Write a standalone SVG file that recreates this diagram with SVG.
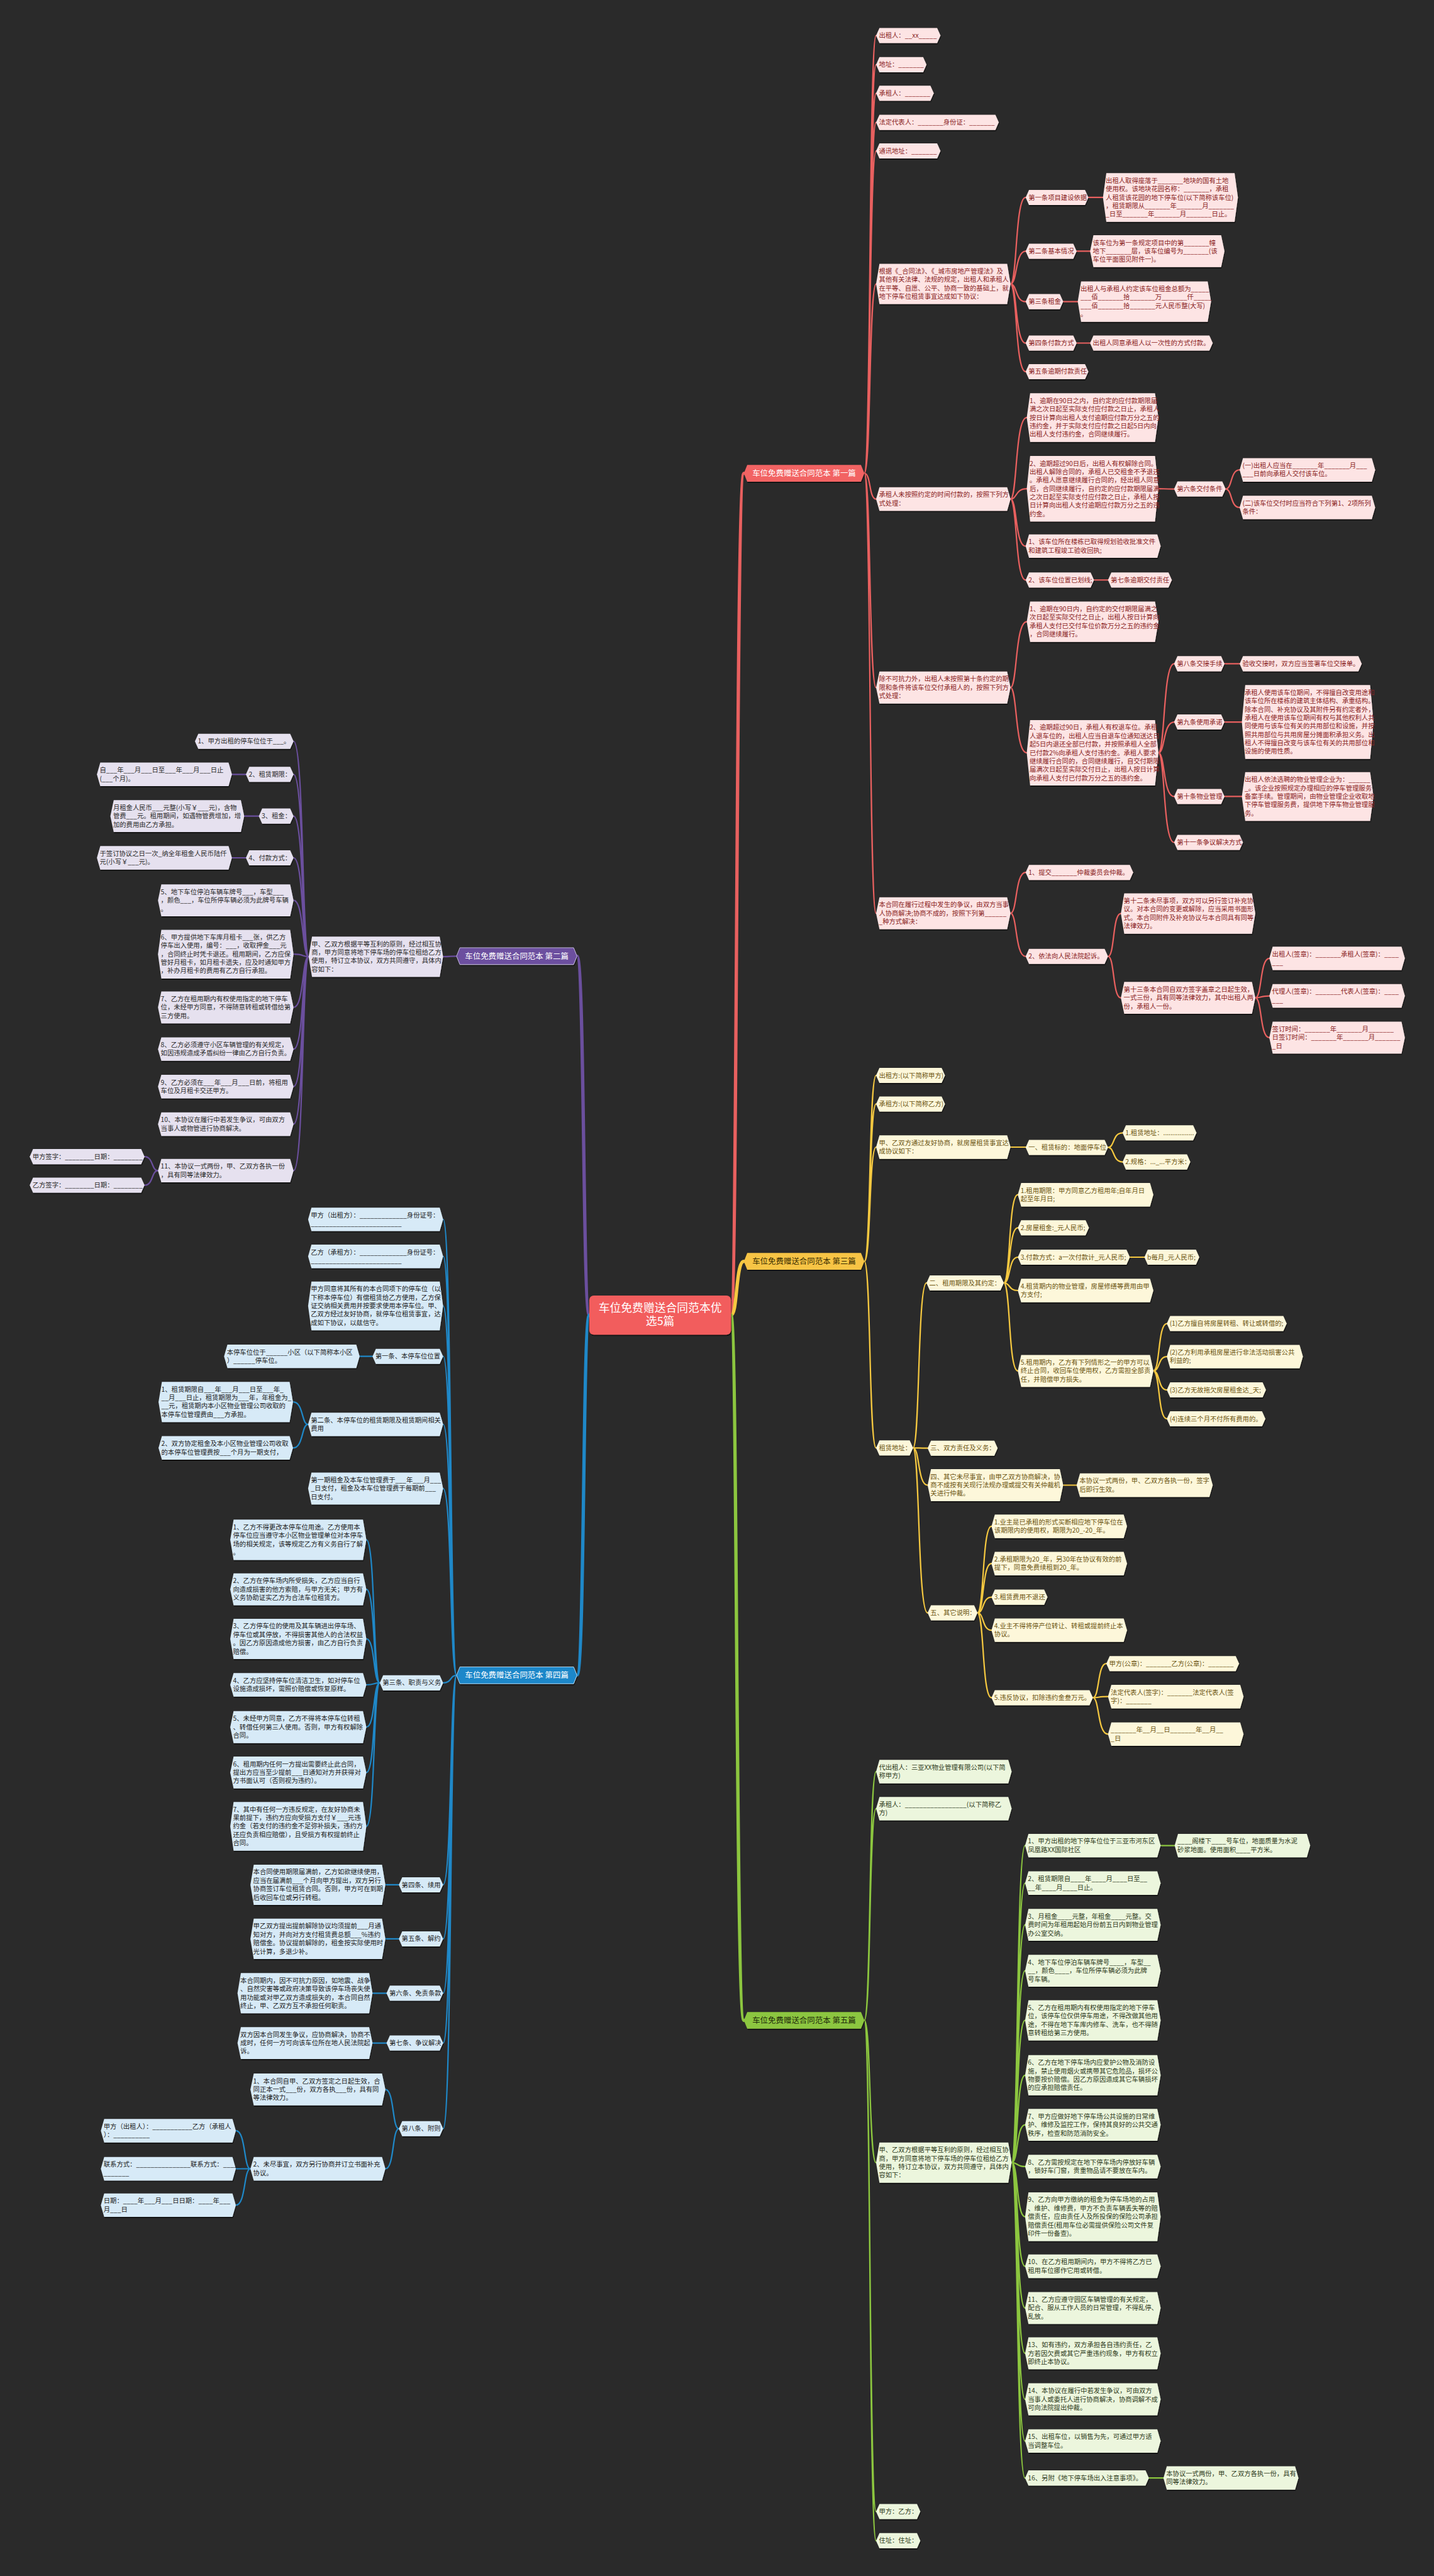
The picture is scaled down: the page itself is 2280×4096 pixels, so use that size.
<svg xmlns="http://www.w3.org/2000/svg" width="2280" height="4096" viewBox="0 0 2280 4096">
<style>
text{font-family:"Noto Sans CJK SC","Noto Sans",sans-serif;font-size:11.6px}
.nd path{filter:url(#sh)}
.k1 path{fill:#fde4e4}.k1 text{fill:#8a2323}
.k3 path{fill:#fdf7da}.k3 text{fill:#6b5410}
.k5 path{fill:#ecf6dd}.k5 text{fill:#2e3a1a}
.k2 path{fill:#e6e1ef}.k2 text{fill:#2a2a2a}
.k4 path{fill:#d7eaf7}.k4 text{fill:#1b1b1b}
.tt text{font-size:14px;text-anchor:middle}
.c{fill:none;stroke-width:2.5;stroke-linecap:round}
.c1{stroke:#e8605f}.c3{stroke:#f5c840}.c5{stroke:#8cc63f}.c2{stroke:#6b4f9e}.c4{stroke:#1f88c8}
.m{stroke-width:6}
</style>
<defs>
<filter id="sh" x="-5%" y="-20%" width="110%" height="150%"><feDropShadow dx="1" dy="2" stdDeviation="0.8" flood-color="#000" flood-opacity="0.6"/></filter>
</defs>
<rect width="2280" height="4096" fill="#2a2a2a"/>
<g transform="scale(0.890625)">
<g id="connectors">
<path class="c c1 m" d="M1305,2348 C1317,2348 1313,845 1328,845"/>
<path class="c c3 m" d="M1305,2348 C1317,2348 1313,2252 1328,2252"/>
<path class="c c5 m" d="M1305,2348 C1317,2348 1313,3607 1328,3607"/>
<path class="c c2 m" d="M1052,2348 C1040,2348 1044,1707 1030,1707"/>
<path class="c c4 m" d="M1052,2348 C1040,2348 1044,2991 1030,2991"/>
<path class="c c1" d="M1543,845 C1555,845 1551,63.5 1564,63.5 M1543,845 C1555,845 1551,115.5 1564,115.5 M1543,845 C1555,845 1551,166.5 1564,166.5 M1543,845 C1555,845 1551,218.5 1564,218.5 M1543,845 C1555,845 1551,269.5 1564,269.5 M1543,845 C1555,845 1551,507 1564,507 M1543,845 C1555,845 1551,891 1564,891 M1543,845 C1555,845 1551,1227.5 1564,1227.5 M1543,845 C1555,845 1551,1630.5 1564,1630.5"/>
<path class="c c1" d="M1804,507 C1816,507 1812,352.5 1831,352.5 M1804,507 C1816,507 1812,448.5 1831,448.5 M1804,507 C1816,507 1812,538.5 1831,538.5 M1804,507 C1816,507 1812,612.5 1831,612.5 M1804,507 C1816,507 1812,663.5 1831,663.5"/>
<path class="c c1" d="M1943,352.5 H1969 M1922,448.5 H1946 M1898,538.5 H1924 M1922,612.5 H1946"/>
<path class="c c1" d="M1804,891 C1816,891 1812,745.5 1833,745.5 M1804,891 C1816,891 1812,872.5 1833,872.5 M1804,891 C1816,891 1812,975 1831,975 M1804,891 C1816,891 1812,1035.5 1831,1035.5"/>
<path class="c c1" d="M2068,872.5 C2080,872.5 2076,873 2096,873 M2188,873 C2200,873 2196,839 2213,839 M2188,873 C2200,873 2196,906 2213,906 M1953,1035.5 H1978"/>
<path class="c c1" d="M1804,1227.5 C1816,1227.5 1812,1110 1833,1110 M1804,1227.5 C1816,1227.5 1812,1344 1833,1344"/>
<path class="c c1" d="M2068,1344 C2080,1344 2076,1185 2096,1185 M2068,1344 C2080,1344 2076,1289 2096,1289 M2068,1344 C2080,1344 2076,1422 2096,1422 M2068,1344 C2080,1344 2076,1504 2096,1504 M2186,1185 H2213 M2186,1289 H2217 M2186,1422 H2217"/>
<path class="c c1" d="M1804,1630.5 C1816,1630.5 1812,1557.5 1831,1557.5 M1804,1630.5 C1816,1630.5 1812,1707.5 1831,1707.5 M1978,1707.5 C1990,1707.5 1986,1631 2001,1631 M1978,1707.5 C1990,1707.5 1986,1781.5 2001,1781.5"/>
<path class="c c1" d="M2241,1781.5 C2253,1781.5 2249,1711 2266,1711 M2241,1781.5 C2253,1781.5 2249,1778 2266,1778 M2241,1781.5 C2253,1781.5 2249,1852.5 2266,1852.5"/>
<path class="c c3" d="M1543,2252 C1555,2252 1551,1920 1564,1920 M1543,2252 C1555,2252 1551,1971 1564,1971 M1543,2252 C1555,2252 1551,2048 1564,2048 M1543,2252 C1555,2252 1551,2585 1564,2585"/>
<path class="c c3" d="M1804,2048 H1831 M1978,2048.5 C1990,2048.5 1986,2022.5 2004,2022.5 M1978,2048.5 C1990,2048.5 1986,2074.5 2004,2074.5"/>
<path class="c c3" d="M1630,2585 C1642,2585 1638,2290.5 1654,2290.5 M1630,2585 C1642,2585 1638,2585.5 1656,2585.5 M1630,2585 C1642,2585 1638,2651.5 1656,2651.5 M1630,2585 C1642,2585 1638,2879.5 1656,2879.5"/>
<path class="c c3" d="M1792,2290.5 C1804,2290.5 1800,2133 1817,2133 M1792,2290.5 C1804,2290.5 1800,2192 1817,2192 M1792,2290.5 C1804,2290.5 1800,2244.5 1817,2244.5 M1792,2290.5 C1804,2290.5 1800,2304 1817,2304 M1792,2290.5 C1804,2290.5 1800,2447.5 1817,2447.5 M2017,2244.5 H2043"/>
<path class="c c3" d="M2059,2447.5 C2071,2447.5 2067,2363 2083,2363 M2059,2447.5 C2071,2447.5 2067,2422 2083,2422 M2059,2447.5 C2071,2447.5 2067,2481.5 2083,2481.5 M2059,2447.5 C2071,2447.5 2067,2533 2083,2533 M1898,2651.5 H1922"/>
<path class="c c3" d="M1745,2879.5 C1757,2879.5 1753,2725 1770,2725 M1745,2879.5 C1757,2879.5 1753,2791.5 1770,2791.5 M1745,2879.5 C1757,2879.5 1753,2851.5 1770,2851.5 M1745,2879.5 C1757,2879.5 1753,2910.5 1770,2910.5 M1745,2879.5 C1757,2879.5 1753,3031 1770,3031"/>
<path class="c c3" d="M1951,3031 C1963,3031 1959,2970 1975,2970 M1951,3031 C1963,3031 1959,3029 1978,3029 M1951,3031 C1963,3031 1959,3096 1978,3096"/>
<path class="c c5" d="M1543,3607 C1555,3607 1551,3163 1564,3163 M1543,3607 C1555,3607 1551,3229 1564,3229 M1543,3607 C1555,3607 1551,3861 1564,3861 M1543,3607 C1555,3607 1551,4484 1564,4484 M1543,3607 C1555,3607 1551,4536 1564,4536"/>
<path class="c c5" d="M1806,3861 C1818,3861 1814,3295 1830,3295 M1806,3861 C1818,3861 1814,3362 1830,3362 M1806,3861 C1818,3861 1814,3436.5 1830,3436.5 M1806,3861 C1818,3861 1814,3518.5 1830,3518.5 M1806,3861 C1818,3861 1814,3607 1830,3607 M1806,3861 C1818,3861 1814,3705 1830,3705 M1806,3861 C1818,3861 1814,3793.5 1830,3793.5 M1806,3861 C1818,3861 1814,3868 1830,3868 M1806,3861 C1818,3861 1814,3957.5 1830,3957.5 M1806,3861 C1818,3861 1814,4046 1830,4046 M1806,3861 C1818,3861 1814,4120.5 1830,4120.5 M1806,3861 C1818,3861 1814,4201.5 1830,4201.5 M1806,3861 C1818,3861 1814,4283.5 1830,4283.5 M1806,3861 C1818,3861 1814,4358 1830,4358 M1806,3861 C1818,3861 1814,4424 1830,4424"/>
<path class="c c5" d="M2072,3295 H2097 M2051,4424 H2077"/>
<path class="c c2" d="M815,1707 C803,1707 807,1708 791,1708"/>
<path class="c c2" d="M551,1708 C539,1708 543,1323.5 524,1323.5 M551,1708 C539,1708 543,1382.5 524,1382.5 M551,1708 C539,1708 543,1457 524,1457 M551,1708 C539,1708 543,1531.5 524,1531.5 M551,1708 C539,1708 543,1607.5 524,1607.5 M551,1708 C539,1708 543,1703.5 524,1703.5 M551,1708 C539,1708 543,1798.5 524,1798.5 M551,1708 C539,1708 543,1873 524,1873 M551,1708 C539,1708 543,1940 524,1940 M551,1708 C539,1708 543,2007 524,2007 M551,1708 C539,1708 543,2090 524,2090"/>
<path class="c c2" d="M439,1382.5 H414 M462,1457 H436 M439,1531.5 H414 M282,2090 C270,2090 274,2065 258,2065 M282,2090 C270,2090 274,2116 258,2116"/>
<path class="c c4" d="M815,2991 C803,2991 807,2177 791,2177 M815,2991 C803,2991 807,2243 791,2243 M815,2991 C803,2991 807,2331.5 791,2331.5 M815,2991 C803,2991 807,2421.5 791,2421.5 M815,2991 C803,2991 807,2543 791,2543 M815,2991 C803,2991 807,2657.5 791,2657.5 M815,2991 C803,2991 807,3004.5 791,3004.5 M815,2991 C803,2991 807,3365 791,3365 M815,2991 C803,2991 807,3461.5 791,3461.5 M815,2991 C803,2991 807,3558.5 791,3558.5 M815,2991 C803,2991 807,3647.5 791,3647.5 M815,2991 C803,2991 807,3800.5 791,3800.5"/>
<path class="c c4" d="M665,2421.5 H642 M550,2543 C538,2543 542,2503 523,2503 M550,2543 C538,2543 542,2585 523,2585"/>
<path class="c c4" d="M678,3004.5 C666,3004.5 670,2749 654,2749 M678,3004.5 C666,3004.5 670,2837.5 654,2837.5 M678,3004.5 C666,3004.5 670,2926 654,2926 M678,3004.5 C666,3004.5 670,3008 654,3008 M678,3004.5 C666,3004.5 670,3083.5 654,3083.5 M678,3004.5 C666,3004.5 670,3164.5 654,3164.5 M678,3004.5 C666,3004.5 670,3260.5 654,3260.5"/>
<path class="c c4" d="M712,3365 H688 M712,3461.5 H688 M690,3558.5 H665 M690,3647.5 H665 M712,3800.5 C700,3800.5 704,3730.5 688,3730.5 M712,3800.5 C700,3800.5 704,3872 688,3872"/>
<path class="c c4" d="M447,3872 C435,3872 439,3804 421,3804 M447,3872 C435,3872 439,3872 421,3872 M447,3872 C435,3872 439,3937 421,3937"/>
</g>

<g id="center"><rect x="1052" y="2313" width="253" height="70" rx="8" fill="#f25d5d" filter="url(#sh)"/><text x="1178.5" y="2342" fill="#ffffff" style="font-size:20px" text-anchor="middle">车位免费赠送合同范本优<tspan x="1178.5" dy="24">选5篇</tspan></text></g>

<g id="t1" class="tt"><path d="M1328,845 l6,-15 h203 l6,15 l-6,15 h-203 z" fill="#f26464" filter="url(#sh)"/><text x="1435.5" y="850" fill="#ffffff">车位免费赠送合同范本 第一篇</text></g>
<g id="t3" class="tt"><path d="M1328,2252 l6,-15 h203 l6,15 l-6,15 h-203 z" fill="#f7c444" filter="url(#sh)"/><text x="1435.5" y="2257" fill="#3a2e00">车位免费赠送合同范本 第三篇</text></g>
<g id="t5" class="tt"><path d="M1328,3607 l6,-15 h203 l6,15 l-6,15 h-203 z" fill="#8cc63f" filter="url(#sh)"/><text x="1435.5" y="3612" fill="#1f2d0a">车位免费赠送合同范本 第五篇</text></g>
<g id="t2" class="tt"><path d="M815,1707 l6,-15 h203 l6,15 l-6,15 h-203 z" fill="#6c4f9f" stroke="#cfc6e6" stroke-width="1" filter="url(#sh)"/><text x="922.5" y="1712" fill="#ffffff">车位免费赠送合同范本 第二篇</text></g>
<g id="t4" class="tt"><path d="M815,2991 l6,-15 h203 l6,15 l-6,15 h-203 z" fill="#1e87c9" stroke="#bfe0f5" stroke-width="1" filter="url(#sh)"/><text x="922.5" y="2996" fill="#ffffff">车位免费赠送合同范本 第四篇</text></g>

<g id="nodes1" class="nd">
<g id="n1a1" class="k1"><path d="M1564,63.5 l6,-13.5 h103 l6,13.5 l-6,13.5 h-103 z"/><text x="1569" y="67.5">出租人：__xx_____</text></g>
<g id="n1a2" class="k1"><path d="M1564,115.5 l6,-13.5 h78 l6,13.5 l-6,13.5 h-78 z"/><text x="1569" y="119.5">地址：_______</text></g>
<g id="n1a3" class="k1"><path d="M1564,166.5 l6,-13.5 h91 l6,13.5 l-6,13.5 h-91 z"/><text x="1569" y="170.5">承租人：_______</text></g>
<g id="n1a4" class="k1"><path d="M1564,218.5 l6,-13.5 h207 l6,13.5 l-6,13.5 h-207 z"/><text x="1569" y="222.5">法定代表人：_______身份证：_______</text></g>
<g id="n1a5" class="k1"><path d="M1564,269.5 l6,-13.5 h103 l6,13.5 l-6,13.5 h-103 z"/><text x="1569" y="273.5">通讯地址：_______</text></g>
<g id="n1a6" class="k1"><path d="M1564,507 l6,-36 h228 l6,36 l-6,36 h-228 z"/><text x="1569" y="488.5">根据《_合同法》、《_城市房地产管理法》及<tspan x="1569" dy="15">其他有关法律、法规的规定，出租人和承租人</tspan><tspan x="1569" dy="15">在平等、自愿、公平、协商一致的基础上，就</tspan><tspan x="1569" dy="15">地下停车位租赁事宜达成如下协议：</tspan></text></g>
<g id="n1b1" class="k1"><path d="M1831,352.5 l6,-13.5 h100 l6,13.5 l-6,13.5 h-100 z"/><text x="1836" y="356.5">第一条项目建设依据</text></g>
<g id="n1b1c" class="k1"><path d="M1969,352.5 l6,-43.5 h229 l6,43.5 l-6,43.5 h-229 z"/><text x="1974" y="326.5">出租人取得座落于_______地块的国有土地<tspan x="1974" dy="15">使用权。该地块花园名称：_______，承租</tspan><tspan x="1974" dy="15">人租赁该花园的地下停车位(以下简称该车位)</tspan><tspan x="1974" dy="15">，租赁期限从_______年_______月_______</tspan><tspan x="1974" dy="15">_日至_______年_______月_______日止。</tspan></text></g>
<g id="n1b2" class="k1"><path d="M1831,448.5 l6,-13.5 h79 l6,13.5 l-6,13.5 h-79 z"/><text x="1836" y="452.5">第二条基本情况</text></g>
<g id="n1b2c" class="k1"><path d="M1946,448.5 l6,-28.5 h228 l6,28.5 l-6,28.5 h-228 z"/><text x="1951" y="437.5">该车位为第一条规定项目中的第_______幢<tspan x="1951" dy="15">地下_______层，该车位编号为_______(该</tspan><tspan x="1951" dy="15">车位平面图见附件一)。</tspan></text></g>
<g id="n1b3" class="k1"><path d="M1831,538.5 l6,-13.5 h55 l6,13.5 l-6,13.5 h-55 z"/><text x="1836" y="542.5">第三条租金</text></g>
<g id="n1b3c" class="k1"><path d="M1924,538.5 l6,-36 h226 l6,36 l-6,36 h-226 z"/><text x="1929" y="520">出租人与承租人约定该车位租金总额为_____<tspan x="1929" dy="15">___佰_______拾_______万_______仟_____</tspan><tspan x="1929" dy="15">___佰_______拾_______元人民币整(大写)</tspan><tspan x="1929" dy="15">。</tspan></text></g>
<g id="n1b4" class="k1"><path d="M1831,612.5 l6,-13.5 h79 l6,13.5 l-6,13.5 h-79 z"/><text x="1836" y="616.5">第四条付款方式</text></g>
<g id="n1b4c" class="k1"><path d="M1946,612.5 l6,-13.5 h207 l6,13.5 l-6,13.5 h-207 z"/><text x="1951" y="616.5">出租人同意承租人以一次性的方式付款。</text></g>
<g id="n1b5" class="k1"><path d="M1831,663.5 l6,-13.5 h100 l6,13.5 l-6,13.5 h-100 z"/><text x="1836" y="667.5">第五条逾期付款责任</text></g>
<g id="n1a7" class="k1"><path d="M1564,891 l6,-21 h228 l6,21 l-6,21 h-228 z"/><text x="1569" y="887.5">承租人未按照约定的时间付款的，按照下列方<tspan x="1569" dy="15">式处理：</tspan></text></g>
<g id="n1d1" class="k1"><path d="M1833,745.5 l6,-43.5 h223 l6,43.5 l-6,43.5 h-223 z"/><text x="1838" y="719.5">1、逾期在90日之内，自约定的应付款期限届<tspan x="1838" dy="15">满之次日起至实际支付应付款之日止，承租人</tspan><tspan x="1838" dy="15">按日计算向出租人支付逾期应付款万分之五的</tspan><tspan x="1838" dy="15">违约金，并于实际支付应付款之日起5日内向</tspan><tspan x="1838" dy="15">出租人支付违约金，合同继续履行。</tspan></text></g>
<g id="n1d2" class="k1"><path d="M1833,872.5 l6,-58.5 h223 l6,58.5 l-6,58.5 h-223 z"/><text x="1838" y="831.5">2、逾期超过90日后，出租人有权解除合同。<tspan x="1838" dy="15">出租人解除合同的，承租人已交租金不予退还</tspan><tspan x="1838" dy="15">。承租人愿意继续履行合同的，经出租人同意</tspan><tspan x="1838" dy="15">后，合同继续履行，自约定的应付款期限届满</tspan><tspan x="1838" dy="15">之次日起至实际支付应付款之日止，承租人按</tspan><tspan x="1838" dy="15">日计算向出租人支付逾期应付款万分之五的违</tspan><tspan x="1838" dy="15">约金。</tspan></text></g>
<g id="n1d2a" class="k1"><path d="M2096,873 l6,-13.5 h80 l6,13.5 l-6,13.5 h-80 z"/><text x="2101" y="877">第六条交付条件</text></g>
<g id="n1d2a1" class="k1"><path d="M2213,839 l6,-21 h230 l6,21 l-6,21 h-230 z"/><text x="2218" y="835.5">(一)出租人应当在_______年_______月___<tspan x="2218" dy="15">___日前向承租人交付该车位。</tspan></text></g>
<g id="n1d2a2" class="k1"><path d="M2213,906 l6,-21 h230 l6,21 l-6,21 h-230 z"/><text x="2218" y="902.5">(二)该车位交付时应当符合下列第1、2项所列<tspan x="2218" dy="15">条件：</tspan></text></g>
<g id="n1d3" class="k1"><path d="M1831,975 l6,-21 h229 l6,21 l-6,21 h-229 z"/><text x="1836" y="971.5">1、该车位所在楼栋已取得规划验收批准文件<tspan x="1836" dy="15">和建筑工程竣工验收回执;</tspan></text></g>
<g id="n1d4" class="k1"><path d="M1831,1035.5 l6,-13.5 h110 l6,13.5 l-6,13.5 h-110 z"/><text x="1836" y="1039.5">2、该车位位置已划线;</text></g>
<g id="n1d4a" class="k1"><path d="M1978,1035.5 l6,-13.5 h102 l6,13.5 l-6,13.5 h-102 z"/><text x="1983" y="1039.5">第七条逾期交付责任</text></g>
<g id="n1a8" class="k1"><path d="M1564,1227.5 l6,-28.5 h228 l6,28.5 l-6,28.5 h-228 z"/><text x="1569" y="1216.5">除不可抗力外，出租人未按照第十条约定的期<tspan x="1569" dy="15">限和条件将该车位交付承租人的，按照下列方</tspan><tspan x="1569" dy="15">式处理：</tspan></text></g>
<g id="n1e1" class="k1"><path d="M1833,1110 l6,-36 h223 l6,36 l-6,36 h-223 z"/><text x="1838" y="1091.5">1、逾期在90日内，自约定的交付期限届满之<tspan x="1838" dy="15">次日起至实际交付之日止，出租人按日计算向</tspan><tspan x="1838" dy="15">承租人支付已交付车位价款万分之五的违约金</tspan><tspan x="1838" dy="15">，合同继续履行。</tspan></text></g>
<g id="n1e2" class="k1"><path d="M1833,1344 l6,-58.5 h223 l6,58.5 l-6,58.5 h-223 z"/><text x="1838" y="1303">2、逾期超过90日，承租人有权退车位。承租<tspan x="1838" dy="15">人退车位的，出租人应当自退车位通知送达日</tspan><tspan x="1838" dy="15">起5日内退还全部已付款，并按照承租人全部</tspan><tspan x="1838" dy="15">已付款2%向承租人支付违约金。承租人要求</tspan><tspan x="1838" dy="15">继续履行合同的，合同继续履行，自交付期限</tspan><tspan x="1838" dy="15">届满次日起至实际交付日止，出租人按日计算</tspan><tspan x="1838" dy="15">向承租人支付已付款万分之五的违约金。</tspan></text></g>
<g id="n1e2a" class="k1"><path d="M2096,1185 l6,-13.5 h78 l6,13.5 l-6,13.5 h-78 z"/><text x="2101" y="1189">第八条交接手续</text></g>
<g id="n1e2a1" class="k1"><path d="M2213,1185 l6,-13.5 h206 l6,13.5 l-6,13.5 h-206 z"/><text x="2218" y="1189">验收交接时，双方应当签署车位交接单。</text></g>
<g id="n1e2b" class="k1"><path d="M2096,1289 l6,-13.5 h78 l6,13.5 l-6,13.5 h-78 z"/><text x="2101" y="1293">第九条使用承诺</text></g>
<g id="n1e2b1" class="k1"><path d="M2217,1289 l6,-66 h223 l6,66 l-6,66 h-223 z"/><text x="2222" y="1240.5">承租人使用该车位期间，不得擅自改变用途和<tspan x="2222" dy="15">该车位所在楼栋的建筑主体结构、承重结构。</tspan><tspan x="2222" dy="15">除本合同、补充协议及其附件另有约定者外，</tspan><tspan x="2222" dy="15">承租人在使用该车位期间有权与其他权利人共</tspan><tspan x="2222" dy="15">同使用与该车位有关的共用部位和设施，并按</tspan><tspan x="2222" dy="15">照共用部位与共用房屋分摊面积承担义务。出</tspan><tspan x="2222" dy="15">租人不得擅自改变与该车位有关的共用部位和</tspan><tspan x="2222" dy="15">设施的使用性质。</tspan></text></g>
<g id="n1e2c" class="k1"><path d="M2096,1422 l6,-13.5 h78 l6,13.5 l-6,13.5 h-78 z"/><text x="2101" y="1426">第十条物业管理</text></g>
<g id="n1e2c1" class="k1"><path d="M2217,1422 l6,-43.5 h223 l6,43.5 l-6,43.5 h-223 z"/><text x="2222" y="1396">出租人依法选聘的物业管理企业为：______<tspan x="2222" dy="15">_。该企业按照规定办理相应的停车管理服务</tspan><tspan x="2222" dy="15">备案手续。管理期间，由物业管理企业收取地</tspan><tspan x="2222" dy="15">下停车管理服务费，提供地下停车物业管理服</tspan><tspan x="2222" dy="15">务。</tspan></text></g>
<g id="n1e2d" class="k1"><path d="M2096,1504 l6,-13.5 h111 l6,13.5 l-6,13.5 h-111 z"/><text x="2101" y="1508">第十一条争议解决方式</text></g>
<g id="n1a9" class="k1"><path d="M1564,1630.5 l6,-28.5 h228 l6,28.5 l-6,28.5 h-228 z"/><text x="1569" y="1619.5">本合同在履行过程中发生的争议，由双方当事<tspan x="1569" dy="15">人协商解决;协商不成的，按照下列第______</tspan><tspan x="1569" dy="15">_种方式解决：</tspan></text></g>
<g id="n1f1" class="k1"><path d="M1831,1557.5 l6,-13.5 h180 l6,13.5 l-6,13.5 h-180 z"/><text x="1836" y="1561.5">1、提交_______仲裁委员会仲裁。</text></g>
<g id="n1f2" class="k1"><path d="M1831,1707.5 l6,-13.5 h135 l6,13.5 l-6,13.5 h-135 z"/><text x="1836" y="1711.5">2、依法向人民法院起诉。</text></g>
<g id="n1g1" class="k1"><path d="M2001,1631 l6,-36 h228 l6,36 l-6,36 h-228 z"/><text x="2006" y="1612.5">第十二条未尽事项，双方可以另行签订补充协<tspan x="2006" dy="15">议。对本合同的变更或解除，应当采用书面形</tspan><tspan x="2006" dy="15">式。本合同附件及补充协议与本合同具有同等</tspan><tspan x="2006" dy="15">法律效力。</tspan></text></g>
<g id="n1g2" class="k1"><path d="M2001,1781.5 l6,-28.5 h228 l6,28.5 l-6,28.5 h-228 z"/><text x="2006" y="1770.5">第十三条本合同自双方签字盖章之日起生效，<tspan x="2006" dy="15">一式三份，具有同等法律效力，其中出租人两</tspan><tspan x="2006" dy="15">份，承租人一份。</tspan></text></g>
<g id="n1h1" class="k1"><path d="M2266,1711 l6,-21 h230 l6,21 l-6,21 h-230 z"/><text x="2271" y="1707.5">出租人(签章)：_______承租人(签章)：____<tspan x="2271" dy="15">___</tspan></text></g>
<g id="n1h2" class="k1"><path d="M2266,1778 l6,-21 h230 l6,21 l-6,21 h-230 z"/><text x="2271" y="1774.5">代理人(签章)：_______代表人(签章)：____<tspan x="2271" dy="15">___</tspan></text></g>
<g id="n1h3" class="k1"><path d="M2266,1852.5 l6,-28.5 h230 l6,28.5 l-6,28.5 h-230 z"/><text x="2271" y="1841.5">签订时间：_______年_______月_______<tspan x="2271" dy="15">日签订时间：_______年_______月_______</tspan><tspan x="2271" dy="15">_日</tspan></text></g>
</g>

<g id="nodes3" class="nd">
<g id="n3s1" class="k3"><path d="M1564,1920 l6,-13.5 h111 l6,13.5 l-6,13.5 h-111 z"/><text x="1569" y="1924">出租方:(以下简称甲方)</text></g>
<g id="n3s2" class="k3"><path d="M1564,1971 l6,-13.5 h111 l6,13.5 l-6,13.5 h-111 z"/><text x="1569" y="1975">承租方:(以下简称乙方)</text></g>
<g id="n3s3" class="k3"><path d="M1564,2048 l6,-21 h228 l6,21 l-6,21 h-228 z"/><text x="1569" y="2044.5">甲、乙双方通过友好协商，就房屋租赁事宜达<tspan x="1569" dy="15">成协议如下：</tspan></text></g>
<g id="n3s3a" class="k3"><path d="M1831,2048.5 l6,-13.5 h135 l6,13.5 l-6,13.5 h-135 z"/><text x="1836" y="2052.5">一、租赁标的：地面停车位</text></g>
<g id="n3s3a1" class="k3"><path d="M2004,2022.5 l6,-13.5 h120 l6,13.5 l-6,13.5 h-120 z"/><text x="2009" y="2026.5">1.租赁地址：.................</text></g>
<g id="n3s3a2" class="k3"><path d="M2004,2074.5 l6,-13.5 h109 l6,13.5 l-6,13.5 h-109 z"/><text x="2009" y="2078.5">2.规格：..._...平方米：</text></g>
<g id="n3s4" class="k3"><path d="M1564,2585 l6,-13.5 h54 l6,13.5 l-6,13.5 h-54 z"/><text x="1569" y="2589">租赁地址：</text></g>
<g id="n3u1" class="k3"><path d="M1654,2290.5 l6,-13.5 h126 l6,13.5 l-6,13.5 h-126 z"/><text x="1659" y="2294.5">二、租用期限及其约定：</text></g>
<g id="n3u1a" class="k3"><path d="M1817,2133 l6,-21 h230 l6,21 l-6,21 h-230 z"/><text x="1822" y="2129.5">1.租用期限：甲方同意乙方租用年;自年月日<tspan x="1822" dy="15">起至年月日;</tspan></text></g>
<g id="n3u1b" class="k3"><path d="M1817,2192 l6,-13.5 h115 l6,13.5 l-6,13.5 h-115 z"/><text x="1822" y="2196">2.房屋租金:_元人民币;</text></g>
<g id="n3u1c" class="k3"><path d="M1817,2244.5 l6,-13.5 h188 l6,13.5 l-6,13.5 h-188 z"/><text x="1822" y="2248.5">3.付款方式：a一次付款计_元人民币;</text></g>
<g id="n3u1c1" class="k3"><path d="M2043,2244.5 l6,-13.5 h86 l6,13.5 l-6,13.5 h-86 z"/><text x="2048" y="2248.5">b每月_元人民币;</text></g>
<g id="n3u1d" class="k3"><path d="M1817,2304 l6,-21 h230 l6,21 l-6,21 h-230 z"/><text x="1822" y="2300.5">4.租赁期内的物业管理，房屋修缮等费用由甲<tspan x="1822" dy="15">方支付;</tspan></text></g>
<g id="n3u1e" class="k3"><path d="M1817,2447.5 l6,-28.5 h230 l6,28.5 l-6,28.5 h-230 z"/><text x="1822" y="2436.5">5.租用期内，乙方有下列情形之一的甲方可以<tspan x="1822" dy="15">终止合同，收回车位使用权，乙方需担全部责</tspan><tspan x="1822" dy="15">任，并赔偿甲方损失。</tspan></text></g>
<g id="n3u1e1" class="k3"><path d="M2083,2363 l6,-13.5 h202 l6,13.5 l-6,13.5 h-202 z"/><text x="2088" y="2367">(1)乙方擅自将房屋转租、转让或转借的;</text></g>
<g id="n3u1e2" class="k3"><path d="M2083,2422 l6,-21 h231 l6,21 l-6,21 h-231 z"/><text x="2088" y="2418.5">(2)乙方利用承租房屋进行非法活动损害公共<tspan x="2088" dy="15">利益的;</tspan></text></g>
<g id="n3u1e3" class="k3"><path d="M2083,2481.5 l6,-13.5 h165 l6,13.5 l-6,13.5 h-165 z"/><text x="2088" y="2485.5">(3)乙方无故拖欠房屋租金达_天;</text></g>
<g id="n3u1e4" class="k3"><path d="M2083,2533 l6,-13.5 h164 l6,13.5 l-6,13.5 h-164 z"/><text x="2088" y="2537">(4)连续三个月不付所有费用的。</text></g>
<g id="n3u2" class="k3"><path d="M1656,2585.5 l6,-13.5 h113 l6,13.5 l-6,13.5 h-113 z"/><text x="1661" y="2589.5">三、双方责任及义务：</text></g>
<g id="n3u3" class="k3"><path d="M1656,2651.5 l6,-28.5 h230 l6,28.5 l-6,28.5 h-230 z"/><text x="1661" y="2640.5">四、其它未尽事宜，由甲乙双方协商解决，协<tspan x="1661" dy="15">商不成按有关现行法规办理或提交有关仲裁机</tspan><tspan x="1661" dy="15">关进行仲裁。</tspan></text></g>
<g id="n3u3a" class="k3"><path d="M1922,2651.5 l6,-21 h231 l6,21 l-6,21 h-231 z"/><text x="1927" y="2648">本协议一式两份，甲、乙双方各执一份，签字<tspan x="1927" dy="15">后即行生效。</tspan></text></g>
<g id="n3u4" class="k3"><path d="M1656,2879.5 l6,-13.5 h77 l6,13.5 l-6,13.5 h-77 z"/><text x="1661" y="2883.5">五、其它说明：</text></g>
<g id="n3u4a" class="k3"><path d="M1770,2725 l6,-21 h230 l6,21 l-6,21 h-230 z"/><text x="1775" y="2721.5">1.业主是已承租的形式买断相应地下停车位在<tspan x="1775" dy="15">该期限内的使用权，期限为20_-20_年。</tspan></text></g>
<g id="n3u4b" class="k3"><path d="M1770,2791.5 l6,-21 h230 l6,21 l-6,21 h-230 z"/><text x="1775" y="2788">2.承租期限为20_年，另30年在协议有效的前<tspan x="1775" dy="15">提下，同意免费续租到20_年。</tspan></text></g>
<g id="n3u4c" class="k3"><path d="M1770,2851.5 l6,-13.5 h88 l6,13.5 l-6,13.5 h-88 z"/><text x="1775" y="2855.5">3.租赁费用不退还</text></g>
<g id="n3u4d" class="k3"><path d="M1770,2910.5 l6,-21 h230 l6,21 l-6,21 h-230 z"/><text x="1775" y="2907">4.业主不得将停产位转让、转租或提前终止本<tspan x="1775" dy="15">协议。</tspan></text></g>
<g id="n3u4e" class="k3"><path d="M1770,3031 l6,-13.5 h169 l6,13.5 l-6,13.5 h-169 z"/><text x="1775" y="3035">5.违反协议，扣除违约金叁万元。</text></g>
<g id="n3u4e1" class="k3"><path d="M1975,2970 l6,-13.5 h225 l6,13.5 l-6,13.5 h-225 z"/><text x="1980" y="2974">甲方(公章)：_______乙方(公章)：_______</text></g>
<g id="n3u4e2" class="k3"><path d="M1978,3029 l6,-21 h230 l6,21 l-6,21 h-230 z"/><text x="1983" y="3025.5">法定代表人(签字)：_______法定代表人(签<tspan x="1983" dy="15">字)：_______</tspan></text></g>
<g id="n3u4e3" class="k3"><path d="M1978,3096 l6,-21 h230 l6,21 l-6,21 h-230 z"/><text x="1983" y="3092.5">_______年__月__日_______年__月__<tspan x="1983" dy="15">_日</tspan></text></g>
</g>

<g id="nodes5" class="nd">
<g id="n5v1" class="k5"><path d="M1564,3163 l6,-21 h230 l6,21 l-6,21 h-230 z"/><text x="1569" y="3159.5">代出租人：三亚XX物业管理有限公司(以下简<tspan x="1569" dy="15">称甲方)</tspan></text></g>
<g id="n5v2" class="k5"><path d="M1564,3229 l6,-21 h230 l6,21 l-6,21 h-230 z"/><text x="1569" y="3225.5">承租人：_________________(以下简称乙<tspan x="1569" dy="15">方)</tspan></text></g>
<g id="n5v3" class="k5"><path d="M1564,3861 l6,-36 h230 l6,36 l-6,36 h-230 z"/><text x="1569" y="3842.5">甲、乙双方根据平等互利的原则，经过相互协<tspan x="1569" dy="15">商，甲方同意将地下停车场的停车位租给乙方</tspan><tspan x="1569" dy="15">使用，特订立本协议，双方共同遵守，具体内</tspan><tspan x="1569" dy="15">容如下：</tspan></text></g>
<g id="n5v4" class="k5"><path d="M1564,4484 l6,-13.5 h67 l6,13.5 l-6,13.5 h-67 z"/><text x="1569" y="4488">甲方：乙方：</text></g>
<g id="n5v5" class="k5"><path d="M1564,4536 l6,-13.5 h67 l6,13.5 l-6,13.5 h-67 z"/><text x="1569" y="4540">住址：住址：</text></g>
<g id="n5w1" class="k5"><path d="M1830,3295 l6,-21 h230 l6,21 l-6,21 h-230 z"/><text x="1835" y="3291.5">1、甲方出租的地下停车位位于三亚市河东区<tspan x="1835" dy="15">凤凰路XX国际社区</tspan></text></g>
<g id="n5w1a" class="k5"><path d="M2097,3295 l6,-21 h230 l6,21 l-6,21 h-230 z"/><text x="2102" y="3291.5">____阁楼下____号车位，地面质量为水泥<tspan x="2102" dy="15">砂浆地面。使用面积____平方米。</tspan></text></g>
<g id="n5w2" class="k5"><path d="M1830,3362 l6,-21 h230 l6,21 l-6,21 h-230 z"/><text x="1835" y="3358.5">2、租赁期限自____年____月____日至__<tspan x="1835" dy="15">__年____月____日止。</tspan></text></g>
<g id="n5w3" class="k5"><path d="M1830,3436.5 l6,-28.5 h230 l6,28.5 l-6,28.5 h-230 z"/><text x="1835" y="3425.5">3、月租金____元整，年租金____元整。交<tspan x="1835" dy="15">费时间为年租用起始月份前五日内到物业管理</tspan><tspan x="1835" dy="15">办公室交纳。</tspan></text></g>
<g id="n5w4" class="k5"><path d="M1830,3518.5 l6,-28.5 h230 l6,28.5 l-6,28.5 h-230 z"/><text x="1835" y="3507.5">4、地下车位停泊车辆车牌号____，车型__<tspan x="1835" dy="15">__，颜色____，车位所停车辆必须为此牌</tspan><tspan x="1835" dy="15">号车辆。</tspan></text></g>
<g id="n5w5" class="k5"><path d="M1830,3607 l6,-36 h230 l6,36 l-6,36 h-230 z"/><text x="1835" y="3588.5">5、乙方在租用期内有权使用指定的地下停车<tspan x="1835" dy="15">位，该停车位仅供停车用途，不得改做其他用</tspan><tspan x="1835" dy="15">途，不得在地下车库内修车、洗车，也不得随</tspan><tspan x="1835" dy="15">意转租给第三方使用。</tspan></text></g>
<g id="n5w6" class="k5"><path d="M1830,3705 l6,-36 h230 l6,36 l-6,36 h-230 z"/><text x="1835" y="3686.5">6、乙方在地下停车场内应爱护公物及消防设<tspan x="1835" dy="15">施，禁止使用烟火或携带其它危险品，损坏公</tspan><tspan x="1835" dy="15">物要按价赔偿。因乙方原因造成其它车辆损坏</tspan><tspan x="1835" dy="15">的应承担赔偿责任。</tspan></text></g>
<g id="n5w7" class="k5"><path d="M1830,3793.5 l6,-28.5 h230 l6,28.5 l-6,28.5 h-230 z"/><text x="1835" y="3782.5">7、甲方应做好地下停车场公共设施的日常维<tspan x="1835" dy="15">护、维修及监控工作，保持其良好的公共交通</tspan><tspan x="1835" dy="15">秩序，检查和防范消防安全。</tspan></text></g>
<g id="n5w8" class="k5"><path d="M1830,3868 l6,-21 h230 l6,21 l-6,21 h-230 z"/><text x="1835" y="3864.5">8、乙方需按规定在地下停车场内停放好车辆<tspan x="1835" dy="15">，锁好车门窗，贵重物品请不要放在车内。</tspan></text></g>
<g id="n5w9" class="k5"><path d="M1830,3957.5 l6,-43.5 h230 l6,43.5 l-6,43.5 h-230 z"/><text x="1835" y="3931.5">9、乙方向甲方缴纳的租金为停车场地的占用<tspan x="1835" dy="15">、维护、维修费，甲方不负责车辆丢失等的赔</tspan><tspan x="1835" dy="15">偿责任，应由责任人及所投保的保险公司承担</tspan><tspan x="1835" dy="15">赔偿责任(租用车位必需提供保险公司文件复</tspan><tspan x="1835" dy="15">印件一份备查)。</tspan></text></g>
<g id="n5w10" class="k5"><path d="M1830,4046 l6,-21 h230 l6,21 l-6,21 h-230 z"/><text x="1835" y="4042.5">10、在乙方租用期间内，甲方不得将乙方已<tspan x="1835" dy="15">租用车位挪作它用或转借。</tspan></text></g>
<g id="n5w11" class="k5"><path d="M1830,4120.5 l6,-28.5 h230 l6,28.5 l-6,28.5 h-230 z"/><text x="1835" y="4109.5">11、乙方应遵守园区车辆管理的有关规定，<tspan x="1835" dy="15">配合、服从工作人员的日常管理，不得乱停、</tspan><tspan x="1835" dy="15">乱放。</tspan></text></g>
<g id="n5w13" class="k5"><path d="M1830,4201.5 l6,-28.5 h230 l6,28.5 l-6,28.5 h-230 z"/><text x="1835" y="4190.5">13、如有违约，双方承担各自违约责任，乙<tspan x="1835" dy="15">方若因欠费或其它严重违约现象，甲方有权立</tspan><tspan x="1835" dy="15">即终止本协议。</tspan></text></g>
<g id="n5w14" class="k5"><path d="M1830,4283.5 l6,-28.5 h230 l6,28.5 l-6,28.5 h-230 z"/><text x="1835" y="4272.5">14、本协议在履行中若发生争议，可由双方<tspan x="1835" dy="15">当事人或委托人进行协商解决，协商调解不成</tspan><tspan x="1835" dy="15">可向法院提出仲裁。</tspan></text></g>
<g id="n5w15" class="k5"><path d="M1830,4358 l6,-21 h230 l6,21 l-6,21 h-230 z"/><text x="1835" y="4354.5">15、出租车位，以销售为先，可通过甲方适<tspan x="1835" dy="15">当调整车位。</tspan></text></g>
<g id="n5w16" class="k5"><path d="M1830,4424 l6,-13.5 h209 l6,13.5 l-6,13.5 h-209 z"/><text x="1835" y="4428">16、另附《地下停车场出入注意事项》。</text></g>
<g id="n5w16a" class="k5"><path d="M2077,4424 l6,-21 h229 l6,21 l-6,21 h-229 z"/><text x="2082" y="4420.5">本协议一式两份，甲、乙双方各执一份，具有<tspan x="2082" dy="15">同等法律效力。</tspan></text></g>
</g>

<g id="nodes2" class="nd">
<g id="n2x1" class="k2"><path d="M551,1708 l6,-36 h228 l6,36 l-6,36 h-228 z"/><text x="556" y="1689.5">甲、乙双方根据平等互利的原则，经过相互协<tspan x="556" dy="15">商，甲方同意将地下停车场的停车位租给乙方</tspan><tspan x="556" dy="15">使用，特订立本协议，双方共同遵守，具体内</tspan><tspan x="556" dy="15">容如下：</tspan></text></g>
<g id="n2x1a" class="k2"><path d="M348,1323.5 l6,-13.5 h164 l6,13.5 l-6,13.5 h-164 z"/><text x="353" y="1327.5">1、甲方出租的停车位位于___。</text></g>
<g id="n2x1b" class="k2"><path d="M439,1382.5 l6,-13.5 h73 l6,13.5 l-6,13.5 h-73 z"/><text x="444" y="1386.5">2、租赁期限：</text></g>
<g id="n2x1b1" class="k2"><path d="M173,1382.5 l6,-21 h229 l6,21 l-6,21 h-229 z"/><text x="178" y="1379">自___年___月___日至___年___月___日止<tspan x="178" dy="15">(___个月)。</tspan></text></g>
<g id="n2x1c" class="k2"><path d="M462,1457 l6,-13.5 h50 l6,13.5 l-6,13.5 h-50 z"/><text x="467" y="1461">3、租金：</text></g>
<g id="n2x1c1" class="k2"><path d="M197,1457 l6,-28.5 h227 l6,28.5 l-6,28.5 h-227 z"/><text x="202" y="1446">月租金人民币___元整(小写￥___元)，含物<tspan x="202" dy="15">管费___元。租用期间，如遇物管费增加，增</tspan><tspan x="202" dy="15">加的费用由乙方承担。</tspan></text></g>
<g id="n2x1d" class="k2"><path d="M439,1531.5 l6,-13.5 h73 l6,13.5 l-6,13.5 h-73 z"/><text x="444" y="1535.5">4、付款方式：</text></g>
<g id="n2x1d1" class="k2"><path d="M173,1531.5 l6,-21 h229 l6,21 l-6,21 h-229 z"/><text x="178" y="1528">于签订协议之日一次_纳全年租金人民币陆仟<tspan x="178" dy="15">元(小写￥___元)。</tspan></text></g>
<g id="n2x1e" class="k2"><path d="M282,1607.5 l6,-28.5 h230 l6,28.5 l-6,28.5 h-230 z"/><text x="287" y="1596.5">5、地下车位停泊车辆车牌号___，车型___<tspan x="287" dy="15">，颜色___，车位所停车辆必须为此牌号车辆</tspan><tspan x="287" dy="15">。</tspan></text></g>
<g id="n2x1f" class="k2"><path d="M282,1703.5 l6,-43.5 h230 l6,43.5 l-6,43.5 h-230 z"/><text x="287" y="1677.5">6、甲方提供地下车库月租卡___张，供乙方<tspan x="287" dy="15">停车出入使用，编号：___，收取押金___元</tspan><tspan x="287" dy="15">，合同终止时凭卡退还。租用期间，乙方应保</tspan><tspan x="287" dy="15">管好月租卡，如月租卡遗失，应及时通知甲方</tspan><tspan x="287" dy="15">，补办月租卡的费用有乙方自行承担。</tspan></text></g>
<g id="n2x1g" class="k2"><path d="M282,1798.5 l6,-28.5 h230 l6,28.5 l-6,28.5 h-230 z"/><text x="287" y="1787.5">7、乙方在租用期内有权使用指定的地下停车<tspan x="287" dy="15">位，未经甲方同意，不得随意转租或转借给第</tspan><tspan x="287" dy="15">三方使用。</tspan></text></g>
<g id="n2x1h" class="k2"><path d="M282,1873 l6,-21 h230 l6,21 l-6,21 h-230 z"/><text x="287" y="1869.5">8、乙方必须遵守小区车辆管理的有关规定，<tspan x="287" dy="15">如因违规造成矛盾纠纷一律由乙方自行负责。</tspan></text></g>
<g id="n2x1i" class="k2"><path d="M282,1940 l6,-21 h230 l6,21 l-6,21 h-230 z"/><text x="287" y="1936.5">9、乙方必须在___年___月___日前，将租用<tspan x="287" dy="15">车位及月租卡交还甲方。</tspan></text></g>
<g id="n2x1j" class="k2"><path d="M282,2007 l6,-21 h230 l6,21 l-6,21 h-230 z"/><text x="287" y="2003.5">10、本协议在履行中若发生争议，可由双方<tspan x="287" dy="15">当事人或物管进行协商解决。</tspan></text></g>
<g id="n2x1k" class="k2"><path d="M282,2090 l6,-21 h230 l6,21 l-6,21 h-230 z"/><text x="287" y="2086.5">11、本协议一式两份，甲、乙双方各执一份<tspan x="287" dy="15">，具有同等法律效力。</tspan></text></g>
<g id="n2x1k1" class="k2"><path d="M53,2065 l6,-13.5 h193 l6,13.5 l-6,13.5 h-193 z"/><text x="58" y="2069">甲方签字：________日期：________</text></g>
<g id="n2x1k2" class="k2"><path d="M53,2116 l6,-13.5 h193 l6,13.5 l-6,13.5 h-193 z"/><text x="58" y="2120">乙方签字：________日期：________</text></g>
</g>

<g id="nodes4" class="nd">
<g id="n4y1" class="k4"><path d="M550,2177 l6,-21 h229 l6,21 l-6,21 h-229 z"/><text x="555" y="2173.5">甲方（出租方）：_____________身份证号：<tspan x="555" dy="15">_________________________</tspan></text></g>
<g id="n4y2" class="k4"><path d="M550,2243 l6,-21 h229 l6,21 l-6,21 h-229 z"/><text x="555" y="2239.5">乙方（承租方）：_____________身份证号：<tspan x="555" dy="15">_________________________</tspan></text></g>
<g id="n4y3" class="k4"><path d="M550,2331.5 l6,-43.5 h229 l6,43.5 l-6,43.5 h-229 z"/><text x="555" y="2305.5">甲方同意将其所有的本合同项下的停车位（以<tspan x="555" dy="15">下称本停车位）有偿租赁给乙方使用，乙方保</tspan><tspan x="555" dy="15">证交纳相关费用并按要求使用本停车位。甲、</tspan><tspan x="555" dy="15">乙双方经过友好协商，就停车位租赁事宜，达</tspan><tspan x="555" dy="15">成如下协议，以兹信守。</tspan></text></g>
<g id="n4y4" class="k4"><path d="M665,2421.5 l6,-13.5 h114 l6,13.5 l-6,13.5 h-114 z"/><text x="670" y="2425.5">第一条、本停车位位置</text></g>
<g id="n4y4a" class="k4"><path d="M400,2421.5 l6,-21 h230 l6,21 l-6,21 h-230 z"/><text x="405" y="2418">本停车位位于______小区（以下简称本小区<tspan x="405" dy="15">）______停车位。</tspan></text></g>
<g id="n4y5" class="k4"><path d="M550,2543 l6,-21 h229 l6,21 l-6,21 h-229 z"/><text x="555" y="2539.5">第二条、本停车位的租赁期限及租赁期间相关<tspan x="555" dy="15">费用</tspan></text></g>
<g id="n4y5a" class="k4"><path d="M283,2503 l6,-36 h228 l6,36 l-6,36 h-228 z"/><text x="288" y="2484.5">1、租赁期限自___年___月___日至___年_<tspan x="288" dy="15">__月___日止，租赁期限为___年，年租金为_</tspan><tspan x="288" dy="15">__元，租赁期内本小区物业管理公司收取的</tspan><tspan x="288" dy="15">本停车位管理费由___方承担。</tspan></text></g>
<g id="n4y5b" class="k4"><path d="M283,2585 l6,-21 h228 l6,21 l-6,21 h-228 z"/><text x="288" y="2581.5">2、双方协定租金及本小区物业管理公司收取<tspan x="288" dy="15">的本停车位管理费按___个月为一期支付，</tspan></text></g>
<g id="n4y6" class="k4"><path d="M550,2657.5 l6,-28.5 h229 l6,28.5 l-6,28.5 h-229 z"/><text x="555" y="2646.5">第一期租金及本车位管理费于___年___月___<tspan x="555" dy="15">_日支付，租金及本车位管理费于每期前___</tspan><tspan x="555" dy="15">日支付。</tspan></text></g>
<g id="n4y7" class="k4"><path d="M678,3004.5 l6,-13.5 h101 l6,13.5 l-6,13.5 h-101 z"/><text x="683" y="3008.5">第三条、职责与义务</text></g>
<g id="n4y7a" class="k4"><path d="M411,2749 l6,-36 h231 l6,36 l-6,36 h-231 z"/><text x="416" y="2730.5">1、乙方不得更改本停车位用途。乙方使用本<tspan x="416" dy="15">停车位应当遵守本小区物业管理单位对本停车</tspan><tspan x="416" dy="15">场的相关规定，该等规定乙方有义务自行了解</tspan><tspan x="416" dy="15">。</tspan></text></g>
<g id="n4y7b" class="k4"><path d="M411,2837.5 l6,-28.5 h231 l6,28.5 l-6,28.5 h-231 z"/><text x="416" y="2826.5">2、乙方在停车场内所受损失，乙方应当自行<tspan x="416" dy="15">向造成损害的他方索赔，与甲方无关；甲方有</tspan><tspan x="416" dy="15">义务协助证实乙方为合法车位租赁方。</tspan></text></g>
<g id="n4y7c" class="k4"><path d="M411,2926 l6,-36 h231 l6,36 l-6,36 h-231 z"/><text x="416" y="2907.5">3、乙方停车位的使用及其车辆进出停车场、<tspan x="416" dy="15">停车位或其停放，不得损害其他人的合法权益</tspan><tspan x="416" dy="15">。因乙方原因造成他方损害，由乙方自行负责</tspan><tspan x="416" dy="15">赔偿。</tspan></text></g>
<g id="n4y7d" class="k4"><path d="M411,3008 l6,-21 h231 l6,21 l-6,21 h-231 z"/><text x="416" y="3004.5">4、乙方应坚持停车位清洁卫生，如对停车位<tspan x="416" dy="15">设施造成损坏，需照价赔偿或恢复原样。</tspan></text></g>
<g id="n4y7e" class="k4"><path d="M411,3083.5 l6,-28.5 h231 l6,28.5 l-6,28.5 h-231 z"/><text x="416" y="3072.5">5、未经甲方同意，乙方不得将本停车位转租<tspan x="416" dy="15">、转借任何第三人使用。否则，甲方有权解除</tspan><tspan x="416" dy="15">合同。</tspan></text></g>
<g id="n4y7f" class="k4"><path d="M411,3164.5 l6,-28.5 h231 l6,28.5 l-6,28.5 h-231 z"/><text x="416" y="3153.5">6、租用期内任何一方提出需要终止此合同，<tspan x="416" dy="15">提出方应当至少提前___日通知对方并获得对</tspan><tspan x="416" dy="15">方书面认可（否则视为违约）。</tspan></text></g>
<g id="n4y7g" class="k4"><path d="M411,3260.5 l6,-43.5 h231 l6,43.5 l-6,43.5 h-231 z"/><text x="416" y="3234.5">7、其中有任何一方违反规定，在友好协商未<tspan x="416" dy="15">果前提下，违约方应向受损方支付￥___元违</tspan><tspan x="416" dy="15">约金（若支付的违约金不足弥补损失，违约方</tspan><tspan x="416" dy="15">还应负责相应赔偿），且受损方有权提前终止</tspan><tspan x="416" dy="15">合同。</tspan></text></g>
<g id="n4y8" class="k4"><path d="M712,3365 l6,-13.5 h67 l6,13.5 l-6,13.5 h-67 z"/><text x="717" y="3369">第四条、续用</text></g>
<g id="n4y8a" class="k4"><path d="M447,3365 l6,-36 h229 l6,36 l-6,36 h-229 z"/><text x="452" y="3346.5">本合同使用期限届满前，乙方如欲继续使用，<tspan x="452" dy="15">应当在届满前___个月向甲方提出，双方另行</tspan><tspan x="452" dy="15">协商签订车位租赁合同。否则，甲方可在到期</tspan><tspan x="452" dy="15">后收回车位或另行转租。</tspan></text></g>
<g id="n4y9" class="k4"><path d="M712,3461.5 l6,-13.5 h67 l6,13.5 l-6,13.5 h-67 z"/><text x="717" y="3465.5">第五条、解约</text></g>
<g id="n4y9a" class="k4"><path d="M447,3461.5 l6,-36 h229 l6,36 l-6,36 h-229 z"/><text x="452" y="3443">甲乙双方提出提前解除协议均须提前___月通<tspan x="452" dy="15">知对方，并向对方支付租赁费总额___%违约</tspan><tspan x="452" dy="15">赔偿金。协议提前解除的，租金按实际使用时</tspan><tspan x="452" dy="15">光计算，多退少补。</tspan></text></g>
<g id="n4y10" class="k4"><path d="M690,3558.5 l6,-13.5 h89 l6,13.5 l-6,13.5 h-89 z"/><text x="695" y="3562.5">第六条、免责条款</text></g>
<g id="n4y10a" class="k4"><path d="M424,3558.5 l6,-36 h229 l6,36 l-6,36 h-229 z"/><text x="429" y="3540">本合同期内，因不可抗力原因，如地震、战争<tspan x="429" dy="15">、自然灾害等或政府决策导致该停车场丧失使</tspan><tspan x="429" dy="15">用功能或对甲乙双方造成损失的，本合同自然</tspan><tspan x="429" dy="15">终止，甲、乙双方互不承担任何职责。</tspan></text></g>
<g id="n4y11" class="k4"><path d="M690,3647.5 l6,-13.5 h89 l6,13.5 l-6,13.5 h-89 z"/><text x="695" y="3651.5">第七条、争议解决</text></g>
<g id="n4y11a" class="k4"><path d="M424,3647.5 l6,-28.5 h229 l6,28.5 l-6,28.5 h-229 z"/><text x="429" y="3636.5">双方因本合同发生争议，应协商解决，协商不<tspan x="429" dy="15">成时，任何一方可向该车位所在地人民法院起</tspan><tspan x="429" dy="15">诉。</tspan></text></g>
<g id="n4y12" class="k4"><path d="M712,3800.5 l6,-13.5 h67 l6,13.5 l-6,13.5 h-67 z"/><text x="717" y="3804.5">第八条、附则</text></g>
<g id="n4y12a" class="k4"><path d="M447,3730.5 l6,-28.5 h229 l6,28.5 l-6,28.5 h-229 z"/><text x="452" y="3719.5">1、本合同自甲、乙双方签定之日起生效，合<tspan x="452" dy="15">同正本一式___份，双方各执___份，具有同</tspan><tspan x="452" dy="15">等法律效力。</tspan></text></g>
<g id="n4y12b" class="k4"><path d="M447,3872 l6,-21 h229 l6,21 l-6,21 h-229 z"/><text x="452" y="3868.5">2、未尽事宜，双方另行协商并订立书面补充<tspan x="452" dy="15">协议。</tspan></text></g>
<g id="n4y12b1" class="k4"><path d="M180,3804 l6,-21 h229 l6,21 l-6,21 h-229 z"/><text x="185" y="3800.5">甲方（出租人）：___________乙方（承租人<tspan x="185" dy="15">）：__________</tspan></text></g>
<g id="n4y12b2" class="k4"><path d="M180,3872 l6,-21 h229 l6,21 l-6,21 h-229 z"/><text x="185" y="3868.5">联系方式：_______________联系方式：_____<tspan x="185" dy="15">_______</tspan></text></g>
<g id="n4y12b3" class="k4"><path d="M180,3937 l6,-21 h229 l6,21 l-6,21 h-229 z"/><text x="185" y="3933.5">日期：____年___月___日日期：____年___<tspan x="185" dy="15">月___日</tspan></text></g>
</g>
</g>
</svg>
